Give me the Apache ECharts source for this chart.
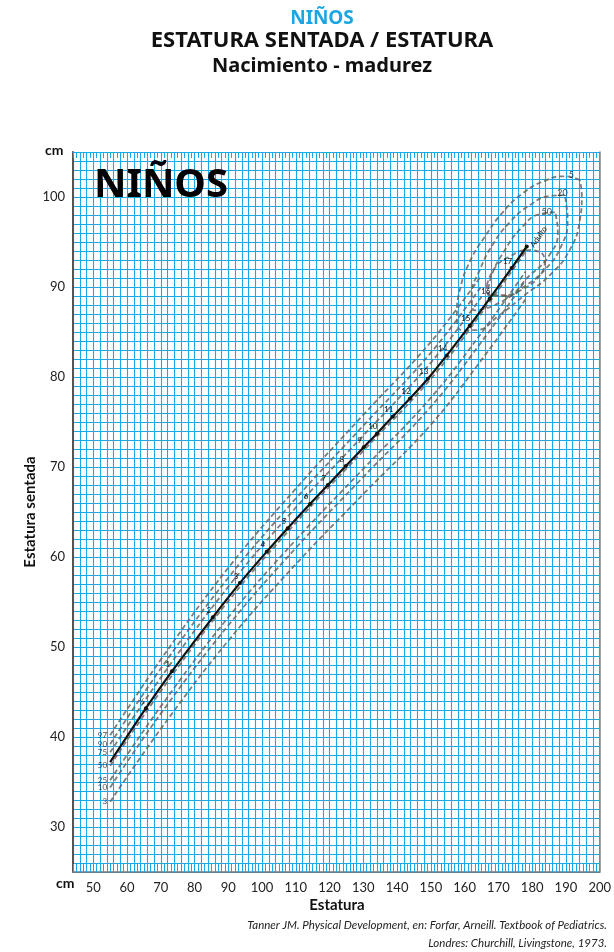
<!DOCTYPE html>
<html>
<head>
<meta charset="utf-8">
<title>Niños - Estatura sentada / Estatura</title>
<script src="https://cdn.jsdelivr.net/npm/echarts@6/dist/echarts.min.js"></script>
<style>
  html, body { margin: 0; padding: 0; background: #fff; }
  #chart { width: 614px; height: 952px; }
</style>
</head>
<body>
<div id="chart"></div>
<script>
// linea media (edad) : estatura / estatura sentada
var edades = ['', '½', '1', '2', '3', '4', '5', '6', '7', '8', '9', '10', '11', '12', '13', '14', '15', '16', '17', 'Adulto'];
var medianaX = [55, 65.6, 73.3, 85.4, 93.4, 101.4, 107.6, 114.2, 119.5, 124.8, 130.1, 134, 138.7, 143.8, 149.1, 154.7, 161.5, 167.4, 173.9, 178.4];
var medianaY = [37.2, 43.2, 47.3, 53.3, 57.1, 60.6, 63.2, 65.9, 68.0, 70.1, 72.2, 73.7, 75.6, 77.6, 79.8, 82.4, 85.7, 88.7, 92.1, 94.5];

// centiles
var centiles = ['97', '90', '75', '50', '25', '10', '3'];
var centilX = [55, 70, 90, 110, 130, 150, 165, 178];
var c97 = [40.2, 48.6, 58.8, 67.6, 75.8, 83.9, 91.3];
var c90 = [39.2, 47.6, 57.7, 66.5, 74.6, 82.7, 90.1];
var c75 = [38.3, 46.6, 56.7, 65.5, 73.5, 81.6, 88.9];
var c50 = [36.8, 45.1, 55.1, 63.8, 71.8, 79.8, 87.1, 93.9];
var c25 = [35.2, 43.4, 53.3, 61.9, 69.8, 77.7, 84.9, 91.7];
var c10 = [34.4, 42.6, 52.4, 61.0, 68.9, 76.7, 83.9, 90.7];
var c3 = [32.8, 40.9, 50.7, 59.2, 67.0, 74.7, 81.9, 88.6];

// elipses adultos
var elipse5X = [194.1, 189.6, 183.7, 177.2, 171.3, 166.0, 161.5, 158.6, 157.7, 159.2, 163.0, 170.4, 177.8, 185.2, 191.1, 194.1, 194.7, 194.1];
var elipse5Y = [101.9, 102.3, 101.8, 100.4, 98.3, 95.6, 92.8, 89.7, 86.9, 85.2, 85.2, 86.9, 89.1, 91.3, 94.1, 97.4, 100.2, 101.9];
var elipse20X = [189.6, 185.2, 179.3, 173.4, 168.3, 164.5, 162.1, 163.0, 168.9, 176.3, 183.7, 188.8, 190.5, 189.9, 189.6];
var elipse20Y = [100.2, 100.1, 99.1, 97.2, 94.7, 91.9, 89.1, 87.4, 88.0, 89.7, 91.9, 94.7, 97.4, 99.7, 100.2];
var elipse50X = [186.7, 182.2, 176.9, 171.9, 168.0, 166.9, 171.9, 179.3, 185.2, 187.6, 187.0, 186.7];
var elipse50Y = [98.3, 98.1, 96.6, 94.1, 91.3, 89.1, 89.1, 91.3, 93.6, 96.1, 98.0, 98.3];
var elipseIntX = [166.6, 168.9, 173.4, 178.7, 182.2, 183.7, 181.6, 176.9, 171.9, 167.5, 166.6];
var elipseIntY = [90.2, 92.1, 93.4, 94.1, 93.9, 92.8, 91.0, 89.7, 89.0, 89.1, 90.2];
var elipseEtiq = ['5', '20', '50'];
var elipseEtiqX = [191.6, 189.0, 184.3];
var elipseEtiqY = [102.4, 100.4, 98.3];

var azul = '#19a8e8';
var gris = '#5e5e5e';
var letra = 'Noto Sans';

var juntar = function (xs, ys) {
    var out = [];
    for (var i = 0; i < ys.length; i++) {
        out.push([xs[i], ys[i]]);
    }
    return out;
};

var lineaDiscontinua = function (datos, suave) {
    return {
        type: 'line',
        data: datos,
        smooth: suave,
        showSymbol: false,
        silent: true,
        z: 3,
        lineStyle: { color: gris, width: 1.8, type: [5, 3], opacity: 0.8 }
    };
};

var chart = echarts.init(document.getElementById('chart'));

var seriesCentil = [c97, c90, c75, c50, c25, c10, c3].map(function (c) {
    return lineaDiscontinua(juntar(centilX, c), 0.4);
});
var seriesElipse = [[elipse5X, elipse5Y], [elipse20X, elipse20Y], [elipse50X, elipse50Y], [elipseIntX, elipseIntY]].map(function (e) {
    return lineaDiscontinua(juntar(e[0], e[1]), true);
});

var ultimo = medianaY.length - 1;
var puntosMedia = medianaY.map(function (y, i) {
    var item = {
        value: [medianaX[i], y],
        symbolSize: i === 0 ? 0 : 4,
        label: { show: edades[i] !== '', formatter: edades[i] }
    };
    if (i === ultimo) {
        // "Adulto" va girado siguiendo la linea
        item.label.position = 'right';
        item.label.rotate = 55;
        item.label.offset = [0, 0];
        item.label.distance = 3;
    }
    return item;
});

var etiquetasCentil = [c97, c90, c75, c50, c25, c10, c3].map(function (c, i) {
    return [centilX[0], c[0], centiles[i]];
});

var option = {
    animation: false,
    title: [
        { text: 'NIÑOS', left: 317, textAlign: 'center', top: 4, textStyle: { color: '#1ba6e3', fontSize: 19, fontWeight: 'bold', fontFamily: letra } },
        { text: 'ESTATURA SENTADA / ESTATURA', left: 317, textAlign: 'center', top: 25, textStyle: { color: '#111', fontSize: 22, fontWeight: 'bold', fontFamily: letra } },
        { text: 'Nacimiento - madurez', left: 317, textAlign: 'center', top: 51, textStyle: { color: '#111', fontSize: 20, fontWeight: 'bold', fontFamily: letra } }
    ],
    grid: { left: 73, right: 14, top: 152, bottom: 80, show: false },
    xAxis: [
        {
            type: 'value', min: 44, max: 200, interval: 2, position: 'bottom',
            axisLine: { show: true, lineStyle: { color: '#777', width: 1.5 } },
            axisTick: { show: true, inside: true, length: 8, lineStyle: { color: azul } },
            minorTick: { show: true, splitNumber: 2, length: 8, lineStyle: { color: azul } },
            axisLabel: {
                interval: 0, margin: 9, color: '#222', fontSize: 13, fontFamily: 'Lato',
                formatter: function (v) { return (v % 10 === 0 && v >= 50) ? String(v) : ''; }
            },
            splitLine: { show: true, lineStyle: { color: azul, width: 1.1 } }
        },
        {
            type: 'value', min: 44, max: 200, interval: 2, position: 'top',
            axisLine: { show: true, lineStyle: { color: azul, width: 1 } },
            axisTick: { show: true, inside: true, length: 6, lineStyle: { color: azul } },
            minorTick: { show: true, splitNumber: 2, length: 6, lineStyle: { color: azul } },
            axisLabel: { show: false },
            splitLine: { show: false }
        }
    ],
    yAxis: [
        {
            type: 'value', min: 25, max: 105, interval: 1,
            axisLine: { show: true, lineStyle: { color: '#555', width: 2 } },
            axisTick: { show: false },
            axisLabel: {
                interval: 0, margin: 8, color: '#222', fontSize: 13, fontFamily: 'Lato',
                formatter: function (v) { return (v % 10 === 0 && v >= 30 && v <= 100) ? String(v) : ''; }
            },
            splitLine: { show: true, lineStyle: { color: azul, width: 1.1 } }
        },
        {
            type: 'value', min: 25, max: 105, interval: 1, position: 'right',
            axisLine: { show: true, lineStyle: { color: '#888', width: 1.5 } },
            axisTick: { show: false },
            axisLabel: { show: false },
            splitLine: { show: false }
        }
    ],
    graphic: [
        { type: 'text', left: 45, top: 143, style: { text: 'cm', fill: '#111', font: 'bold 14px Lato' } },
        { type: 'text', left: 56, top: 876, style: { text: 'cm', fill: '#111', font: 'bold 14px Lato' } },
        { type: 'text', x: 337, y: 905, style: { text: 'Estatura', fill: '#111', font: 'bold 15px Lato', align: 'center', verticalAlign: 'middle' } },
        { type: 'text', x: 30, y: 512, rotation: Math.PI / 2, style: { text: 'Estatura sentada', fill: '#111', font: 'bold 15px Lato', align: 'center', verticalAlign: 'middle' } },
        { type: 'text', left: 94, top: 166, z: 10, style: { text: 'NIÑOS', fill: '#000', font: 'bold 40px "Noto Sans"' } },
        { type: 'text', right: 7, top: 919, style: { text: 'Tanner JM. Physical Development, en: Forfar, Arneill. Textbook of Pediatrics.', fill: '#222', font: 'italic 11.5px Lato', textAlign: 'right' } },
        { type: 'text', right: 7, top: 937, style: { text: 'Londres: Churchill, Livingstone, 1973.', fill: '#222', font: 'italic 11.5px Lato', textAlign: 'right' } }
    ],
    series: seriesCentil.concat(seriesElipse).concat([
        {
            type: 'line',
            data: puntosMedia,
            smooth: 0.3,
            symbol: 'circle',
            showSymbol: true,
            silent: true,
            z: 5,
            itemStyle: { color: '#111' },
            lineStyle: { color: '#111', width: 2.2 },
            label: { show: true, position: 'top', distance: 1, offset: [-4, 0], fontSize: 8, color: '#111', fontFamily: 'Lato' }
        },
        {
            type: 'scatter',
            data: etiquetasCentil,
            symbolSize: 0,
            silent: true,
            z: 6,
            label: { show: true, position: 'left', distance: 3, fontSize: 8, color: '#222', fontFamily: 'Lato',
                formatter: function (p) { return p.value[2]; } }
        },
        {
            type: 'scatter',
            data: elipseEtiq.map(function (t, i) { return [elipseEtiqX[i], elipseEtiqY[i], t]; }),
            symbolSize: 0,
            silent: true,
            z: 6,
            label: { show: true, position: 'inside', fontSize: 9, color: '#222', fontFamily: 'Lato',
                formatter: function (p) { return p.value[2]; } }
        }
    ])
};

chart.setOption(option);
</script>
</body>
</html>
